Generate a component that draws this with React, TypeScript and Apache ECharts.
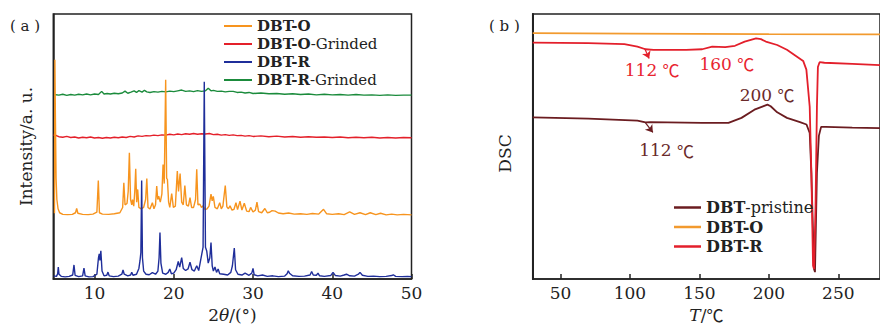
import React, { useEffect, useRef } from "react";
import * as echarts from "echarts";

// ---------- Panel (a): XRD ----------
const xrdTicks = [10, 20, 30, 40, 50];

const xrdR: number[][] = [
  [4.85, 1.2], [5.2, 1.0], [5.35, 2], [5.43, 4.5], [5.52, 1.8], [5.8, 1.0], [6.3, 0.8], [6.8, 1.0], [7.25, 1.5], [7.41, 5.3], [7.55, 1.4],
  [8.0, 0.9], [8.5, 1.2], [8.67, 4.1], [8.82, 1.2], [9.3, 0.8], [9.8, 0.9], [10.3, 1.8], [10.5, 8.0], [10.6, 9.5], [10.68, 7], [10.8, 10.6],
  [10.95, 3], [11.2, 1.2], [11.55, 1.4], [11.7, 2.6], [11.85, 1.2], [12.4, 0.9], [13.0, 1.1], [13.45, 1.8], [13.6, 3.4], [13.75, 1.8],
  [14.2, 1.2], [14.55, 1.5], [14.7, 2.5], [14.85, 1.4], [15.3, 1.8], [15.6, 4], [15.74, 6.9], [15.85, 10], [15.95, 37.2], [16.05, 8],
  [16.2, 3], [16.5, 1.8], [16.9, 1.6], [17.3, 2.4], [17.7, 1.8], [18.0, 3], [18.15, 8], [18.26, 17.5], [18.38, 6], [18.6, 2.2], [19.0, 1.8],
  [19.3, 2.5], [19.5, 3.8], [19.7, 2], [20.0, 2.2], [20.3, 3.5], [20.57, 6.6], [20.75, 4.5], [21.0, 8.1], [21.2, 4], [21.5, 3.2], [21.8, 3.8],
  [22.05, 6.3], [22.3, 3.5], [22.6, 3], [22.9, 5], [23.15, 3.2], [23.5, 8.8], [23.7, 12], [23.85, 74.4], [24.0, 12], [24.16, 10.6],
  [24.35, 6], [24.55, 8], [24.7, 13.8], [24.85, 5], [25.0, 3], [25.2, 4.5], [25.4, 2.5], [25.6, 3.8], [25.8, 2], [26.3, 1.8], [26.8, 1.5],
  [27.2, 2.5], [27.4, 5], [27.64, 11.7], [27.8, 3.5], [28.1, 1.8], [28.6, 1.5], [29.0, 2.2], [29.5, 1.4], [29.85, 2.2], [30.0, 4], [30.15, 1.6],
  [30.6, 1.2], [31.2, 1.5], [31.8, 1.0], [32.5, 1.2], [33.2, 0.9], [34.0, 1.1], [34.3, 2], [34.45, 3.1], [34.6, 2.2], [35.0, 1.2], [35.8, 1.0],
  [36.5, 1.1], [37.2, 1.5], [37.4, 2.8], [37.6, 1.5], [38.0, 1.4], [38.2, 2.2], [38.4, 1.2], [39.0, 1.0], [39.8, 1.3], [40.1, 2.5], [40.4, 1.3],
  [41.0, 1.1], [41.5, 1.5], [41.8, 1.8], [42.2, 1.2], [42.8, 1.1], [43.3, 1.8], [43.5, 2.5], [43.8, 1.4], [44.5, 1.0], [45.2, 1.1], [46.0, 0.9],
  [46.8, 1.0], [47.5, 1.3], [47.7, 1.6], [48.0, 1.0], [48.8, 0.9], [49.5, 1.0], [50, 0.9],
];

const xrdO: number[][] = [
  [4.95, 24.8], [5.0, 82.7], [5.07, 60], [5.15, 38], [5.25, 30], [5.4, 26.5], [5.6, 25], [6.0, 24.4], [6.6, 24.3], [7.2, 24.4], [7.6, 25],
  [7.75, 26.6], [7.9, 24.8], [8.5, 24.4], [9.2, 24.3], [9.8, 24.5], [10.3, 25.2], [10.48, 37.2], [10.62, 25], [11.0, 24.5], [11.8, 24.4],
  [12.5, 24.6], [13.2, 25], [13.55, 27], [13.7, 36.3], [13.85, 28], [14.1, 28.5], [14.25, 33], [14.4, 47.6], [14.55, 30], [14.7, 28],
  [14.8, 30], [14.95, 27.5], [15.08, 33], [15.2, 41.6], [15.32, 29], [15.45, 33.8], [15.6, 27], [15.9, 26.5], [16.2, 27], [16.45, 30],
  [16.6, 37.9], [16.75, 27], [17.0, 26.4], [17.3, 28.8], [17.5, 26.5], [17.7, 28], [17.85, 35.1], [17.98, 30], [18.1, 31.3], [18.3, 29],
  [18.5, 32], [18.65, 43.2], [18.8, 36], [18.98, 75.2], [19.1, 38], [19.2, 37.6], [19.35, 29], [19.5, 27], [19.74, 32.2], [19.95, 27],
  [20.2, 27.5], [20.45, 40.7], [20.6, 33], [20.8, 39.8], [21.0, 29], [21.2, 28], [21.4, 35.3], [21.6, 28], [21.85, 27.5], [22.05, 30.7],
  [22.25, 27], [22.5, 27], [22.75, 30], [22.9, 41.4], [23.05, 28], [23.3, 28.2], [23.5, 27], [23.7, 27.6], [23.95, 26.2], [24.2, 26.5],
  [24.45, 27.5], [24.7, 32], [24.85, 29.5], [24.99, 31.2], [25.2, 27], [25.5, 26.5], [25.8, 28.8], [26.0, 26.5], [26.2, 27.5], [26.5, 35.3],
  [26.7, 27.2], [26.9, 26.5], [27.1, 27.6], [27.35, 26], [27.6, 26.3], [27.85, 28.8], [28.05, 26.2], [28.36, 29.4], [28.6, 26], [28.9, 28.6],
  [29.2, 25.6], [29.5, 25.4], [29.7, 27], [30.0, 25.3], [30.3, 26], [30.5, 29], [30.7, 25.4], [31.1, 25], [31.5, 26.6], [31.8, 25],
  [32.1, 25.2], [32.4, 25.8], [32.8, 25.6], [33.2, 24.9], [33.8, 24.6], [34.5, 24.9], [35.2, 24.5], [36.0, 24.6], [36.8, 24.4], [37.5, 24.7],
  [38.3, 24.5], [38.9, 26.3], [39.3, 24.6], [40.0, 24.4], [40.8, 24.6], [41.5, 24.3], [42.2, 25.3], [42.8, 24.4], [43.5, 25], [44.2, 24.3],
  [44.8, 25], [45.5, 24.3], [46.1, 24.8], [46.8, 24.2], [47.5, 24.5], [48.2, 24.2], [49.0, 24.4], [50, 24.2],
];

const xrdOG: number[][] = [
  [4.9, 54], [5.0, 55.3], [5.1, 54.2], [5.5, 53.7], [6, 53.5], [6.5, 53.8], [7, 53.4], [7.5, 53.6], [8, 53.2], [8.5, 53.5], [9, 53.3],
  [9.5, 53.6], [10, 53.2], [10.5, 53.4], [11, 53.1], [11.5, 53.4], [12, 53.2], [12.5, 53.5], [13, 53.3], [13.5, 53.6], [14, 53.4],
  [14.5, 53.8], [15, 53.6], [15.5, 54], [16, 53.8], [16.5, 54.1], [17, 54], [17.5, 54.3], [18, 54.1], [18.5, 54.4], [19, 54.3], [19.5, 54.6],
  [20, 54.4], [20.5, 54.7], [21, 54.5], [21.5, 54.8], [22, 54.6], [22.5, 54.9], [23, 54.6], [23.5, 54.8], [24, 54.7], [24.5, 54.9], [25, 54.5],
  [25.5, 54.6], [26, 54.3], [26.5, 54.5], [27, 54.2], [27.5, 54.4], [28, 54.1], [28.5, 54.2], [29, 53.9], [29.5, 54.1], [30, 53.8], [31, 54],
  [32, 53.7], [33, 53.9], [34, 53.6], [35, 53.8], [36, 53.5], [37, 53.7], [38, 53.5], [39, 53.6], [40, 53.4], [41, 53.6], [42, 53.3],
  [43, 53.5], [44, 53.3], [45, 53.5], [46, 53.2], [47, 53.4], [48, 53.2], [49, 53.4], [50, 53.3],
];

const xrdRG: number[][] = [
  [4.9, 69.6], [5.5, 69.4], [6, 69.7], [6.5, 69.3], [7, 69.6], [7.5, 69.4], [8, 69.7], [8.5, 69.5], [9, 69.8], [9.5, 69.5], [10, 69.8],
  [10.5, 69.6], [10.9, 70.8], [11.2, 69.8], [11.6, 70], [12, 69.8], [12.5, 70.1], [13, 69.9], [13.5, 70.2], [13.85, 70.9], [14.2, 70.1],
  [14.6, 70.5], [15, 71], [15.3, 70.4], [15.6, 71.1], [16, 70.5], [16.3, 71.2], [16.6, 70.6], [17, 70.4], [17.5, 70.7], [18, 70.5],
  [18.5, 70.8], [19, 70.6], [19.5, 70.9], [20, 70.7], [20.5, 71], [21, 71.3], [21.5, 70.8], [22, 71], [22.5, 70.7], [23, 71.1], [23.5, 70.8],
  [24, 71], [24.35, 72], [24.7, 71], [25, 71.2], [25.5, 70.8], [26, 70.9], [26.5, 70.6], [27, 70.8], [27.5, 70.8], [28, 70.4], [28.5, 70.5],
  [29, 70.2], [29.5, 70.4], [30, 70], [31, 70.2], [32, 69.9], [33, 70], [34, 69.7], [35, 69.9], [36, 69.6], [37, 69.8], [38, 69.5],
  [39, 69.7], [40, 69.5], [41, 69.6], [42, 69.4], [43, 69.6], [44, 69.4], [45, 69.5], [46, 69.3], [47, 69.5], [48, 69.3], [49, 69.4], [50, 69.4],
];

// ---------- Panel (b): DSC ----------
const dscTicks = [50, 100, 150, 200, 250];

const dscPristine: number[][] = [
  [30, 61], [70, 60.5], [105.4, 59.8], [111.2, 59.1], [114.7, 59.2], [152, 58.9], [170.9, 58.9], [180.3, 60.8], [189.6, 63.9], [199, 65.8],
  [201.3, 65.2], [206, 62.9], [213, 60.8], [222.4, 59.2], [227.1, 58.3], [229.4, 55.1], [230.6, 40], [232.5, 3.8], [233.2, 2.6], [234.6, 40],
  [236, 54], [237.6, 57.4], [241, 57.4], [260, 57.1], [280, 56.9],
];

const dscO: number[][] = [
  [30, 92.8], [100, 92.6], [200, 92.4], [280, 92.3],
];

const dscR: number[][] = [
  [30, 89.2], [70, 89.0], [96, 88.6], [105.4, 87.7], [111.2, 86.7], [117, 86.5], [140.5, 86.5], [152, 86.7], [159.2, 87.7], [168.6, 87.5],
  [175.6, 88], [182.6, 89.6], [190.8, 90.8], [194.3, 90.5], [197.8, 89.6], [206, 88.3], [213, 86.5], [220, 84], [224.7, 82.3], [227, 79],
  [229.4, 65], [230.6, 40], [231.8, 5], [232.5, 3.8], [233.6, 27.6], [234.6, 65], [235.3, 80], [236.5, 81.8], [240, 81.6], [260, 81.2], [280, 80.7],
];

const FONT = "DejaVu Serif";
const CJK = "Noto Sans CJK SC";
const INK = "#222";

function legendFmt(name: string) {
  if (name === "DBT-O-Grinded") return "{b|DBT-O}{n|-Grinded}";
  if (name === "DBT-R-Grinded") return "{b|DBT-R}{n|-Grinded}";
  if (name === "DBT-pristine") return "{b|DBT}{n|-pristine}";
  return "{b|" + name + "}";
}

function legendRich(fs: number) {
  return {
    b: { fontFamily: FONT, fontSize: fs, fontWeight: "bold", color: INK },
    n: { fontFamily: FONT, fontSize: fs, color: INK },
  };
}

function line(name: string, data: number[][], color: string, width: number, extra: any = {}) {
  return {
    type: "line",
    name,
    data,
    symbol: "none",
    showSymbol: false,
    smooth: false,
    lineStyle: { color, width },
    itemStyle: { color },
    ...extra,
  };
}

function annot(num: string, coord: number[], color: string) {
  return {
    coord,
    symbol: "circle",
    symbolSize: 1,
    itemStyle: { color: "rgba(0,0,0,0)" },
    label: {
      show: true,
      position: "inside",
      formatter: "{d|" + num + " }{c|℃}",
      rich: {
        d: { fontFamily: FONT, fontSize: 17, color },
        c: { fontFamily: CJK, fontSize: 17, color },
      },
    },
  };
}

function arrow(from: number[], to: number[], color: string) {
  return {
    silent: true,
    symbol: ["none", "arrow"],
    symbolSize: 7,
    label: { show: false },
    lineStyle: { color, width: 1.2, type: "solid" },
    data: [[{ coord: from }, { coord: to }]],
  };
}

function optionA(): any {
  return {
    animation: false,
    textStyle: { fontFamily: FONT },
    grid: { left: 53.3, top: 14, width: 358.2, height: 266, show: true, borderColor: INK, borderWidth: 1.5 },
    graphic: [
      { type: "text", left: 10, top: 18, style: { text: "( a )", font: `15px '${FONT}'`, fill: INK } },
    ],
    legend: {
      orient: "vertical",
      left: 219,
      top: 13.5,
      icon: "rect",
      itemWidth: 28,
      itemHeight: 2,
      itemGap: 3,
      data: ["DBT-O", "DBT-O-Grinded", "DBT-R", "DBT-R-Grinded"],
      formatter: legendFmt,
      textStyle: { rich: legendRich(15) },
    },
    xAxis: {
      type: "value",
      min: 4.8,
      max: 50,
      name: "2{i|θ}/(°)",
      nameLocation: "middle",
      nameGap: 27,
      nameTextStyle: {
        fontFamily: FONT,
        fontSize: 17,
        color: INK,
        rich: {
          i: { fontFamily: FONT, fontSize: 17, fontStyle: "italic", color: INK },
        },
      },
      axisLine: { show: true, lineStyle: { color: INK, width: 1.5 } },
      axisTick: { show: true, inside: true, length: 5, customValues: xrdTicks, lineStyle: { color: INK, width: 1.5 } },
      axisLabel: { customValues: xrdTicks, fontFamily: FONT, fontSize: 17, color: INK, margin: 5 },
      splitLine: { show: false },
    },
    yAxis: {
      type: "value",
      min: 0,
      max: 100,
      name: "Intensity/a. u.",
      nameLocation: "middle",
      nameRotate: 90,
      nameGap: 19,
      nameTextStyle: { fontFamily: FONT, fontSize: 17, color: INK },
      axisLine: { show: true, lineStyle: { color: INK, width: 1.5 } },
      axisTick: { show: false },
      axisLabel: { show: false },
      splitLine: { show: false },
    },
    series: [
      line("DBT-R-Grinded", xrdRG, "#1B8B3C", 1.4),
      line("DBT-O-Grinded", xrdOG, "#E4202A", 1.4),
      line("DBT-O", xrdO, "#F7941E", 1.4),
      line("DBT-R", xrdR, "#1F2E9A", 1.4),
    ],
  };
}

function optionB(): any {
  const red = "#E31F2B";
  const dark = "#6B1C20";
  return {
    animation: false,
    textStyle: { fontFamily: FONT },
    grid: { left: 92.7, top: 14, width: 356, height: 266, show: true, borderColor: INK, borderWidth: 1.5 },
    graphic: [
      { type: "text", left: 49, top: 18, style: { text: "( b )", font: `15px '${FONT}'`, fill: INK } },
    ],
    legend: {
      orient: "vertical",
      left: 229,
      top: 194.5,
      icon: "rect",
      itemWidth: 27,
      itemHeight: 2.5,
      itemGap: 3.5,
      data: ["DBT-pristine", "DBT-O", "DBT-R"],
      formatter: legendFmt,
      textStyle: { rich: legendRich(16) },
    },
    xAxis: {
      type: "value",
      min: 30,
      max: 280,
      name: "{i|T}/{c|℃}",
      nameLocation: "middle",
      nameGap: 27,
      nameTextStyle: {
        fontFamily: FONT,
        fontSize: 17,
        color: INK,
        rich: {
          i: { fontFamily: FONT, fontSize: 17, fontStyle: "italic", color: INK },
          c: { fontFamily: CJK, fontSize: 17, color: INK },
        },
      },
      axisLine: { show: true, lineStyle: { color: INK, width: 1.5 } },
      axisTick: { show: true, inside: true, length: 5, customValues: dscTicks, lineStyle: { color: INK, width: 1.5 } },
      axisLabel: { customValues: dscTicks, fontFamily: FONT, fontSize: 17, color: INK, margin: 5 },
      splitLine: { show: false },
    },
    yAxis: {
      type: "value",
      min: 0,
      max: 100,
      name: "DSC",
      nameLocation: "middle",
      nameRotate: 90,
      nameGap: 19,
      nameTextStyle: { fontFamily: FONT, fontSize: 17, color: INK, padding: [0, 14, 0, 0] },
      axisLine: { show: true, lineStyle: { color: INK, width: 2 } },
      axisTick: { show: false },
      axisLabel: { show: false },
      splitLine: { show: false },
    },
    series: [
      line("DBT-pristine", dscPristine, dark, 1.8, {
        markPoint: {
          silent: true,
          data: [annot("200", [198.7, 69.5], "#6B2A2A"), annot("112", [126.4, 48.5], "#6B2A2A")],
        },
        markLine: arrow([111.2, 58.9], [116.5, 55.3], dark),
      }),
      line("DBT-O", dscO, "#F29A2E", 1.8),
      line("DBT-R", dscR, red, 1.8, {
        markPoint: {
          silent: true,
          data: [annot("112", [116, 78.9], "#E8242F"), annot("160", [169.8, 81.2], "#E8242F")],
        },
        markLine: arrow([110.5, 87.1], [113.8, 83.2], red),
      }),
    ],
  };
}

function Chart({ option, style }: { option: any; style: React.CSSProperties }) {
  const ref = useRef<HTMLDivElement>(null);
  useEffect(() => {
    if (!ref.current) return;
    const chart = echarts.init(ref.current, undefined, { renderer: "svg" });
    chart.setOption(option);
    return () => chart.dispose();
  }, [option]);
  return <div ref={ref} style={{ ...style, overflow: "hidden" }} />;
}

const optA = optionA();
const optB = optionB();

export default function App() {
  return (
    <div style={{ position: "fixed", left: 0, top: 0, width: 880, height: 328, background: "#fff", overflow: "hidden" }}>
      <Chart option={optA} style={{ position: "absolute", left: 0, top: 0, width: 440, height: 328 }} />
      <Chart option={optB} style={{ position: "absolute", left: 440, top: 0, width: 440, height: 328 }} />
    </div>
  );
}
